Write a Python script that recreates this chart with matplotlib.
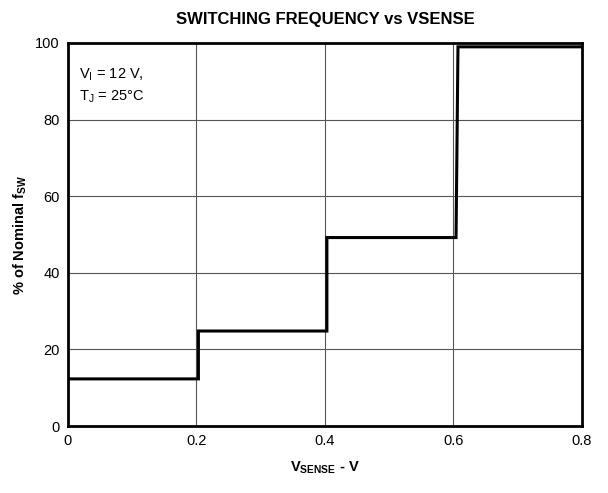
import matplotlib
matplotlib.use('Agg')
import matplotlib.pyplot as plt

plt.rcParams['font.family'] = ['Liberation Sans', 'DejaVu Sans']

# step curve: switching frequency vs VSENSE
vsense = [0.0, 0.203, 0.203, 0.403, 0.403, 0.604, 0.607, 0.8]
pct_nominal = [12.3, 12.3, 24.8, 24.8, 49.2, 49.2, 99.0, 99.0]

x_ticks = [0, 0.2, 0.4, 0.6, 0.8]
x_labels = ['0', '0.2', '0.4', '0.6', '0.8']
y_ticks = [0, 20, 40, 60, 80, 100]

fig = plt.figure(figsize=(6.08, 4.93), dpi=100)
ax = fig.add_axes([0.1118, 0.1359, 0.8454, 0.7769])

ax.plot(vsense, pct_nominal, color='black', linewidth=2.2, solid_joinstyle='miter')

ax.set_xlim(0, 0.8)
ax.set_ylim(0, 100)
ax.set_xticks(x_ticks)
ax.set_xticklabels(x_labels)
ax.set_yticks(y_ticks)
ax.grid(True, color='#555555', linewidth=0.8)
ax.tick_params(length=0, labelsize=10.5, pad=6)
for s in ax.spines.values():
    s.set_linewidth(2)

ax.set_title('SWITCHING FREQUENCY vs VSENSE', fontsize=12, fontweight='bold', pad=14)
ax.set_xlabel(r'V$_\mathregular{SENSE}$ - V', fontsize=10.5, fontweight='bold')
ax.set_ylabel(r'% of Nominal f$_\mathregular{SW}$', fontsize=10.5, fontweight='bold')
ax.xaxis.set_label_coords(0.5, -0.088)
ax.yaxis.set_label_coords(-0.075, 0.5)

ax.text(0.017, 94, 'V$_\\mathregular{I}$ = 12 V,\nT$_\\mathregular{J}$ = 25°C', fontsize=10.5,
        va='top', ha='left', linespacing=1.5)

fig.savefig('out.png', dpi=100)
